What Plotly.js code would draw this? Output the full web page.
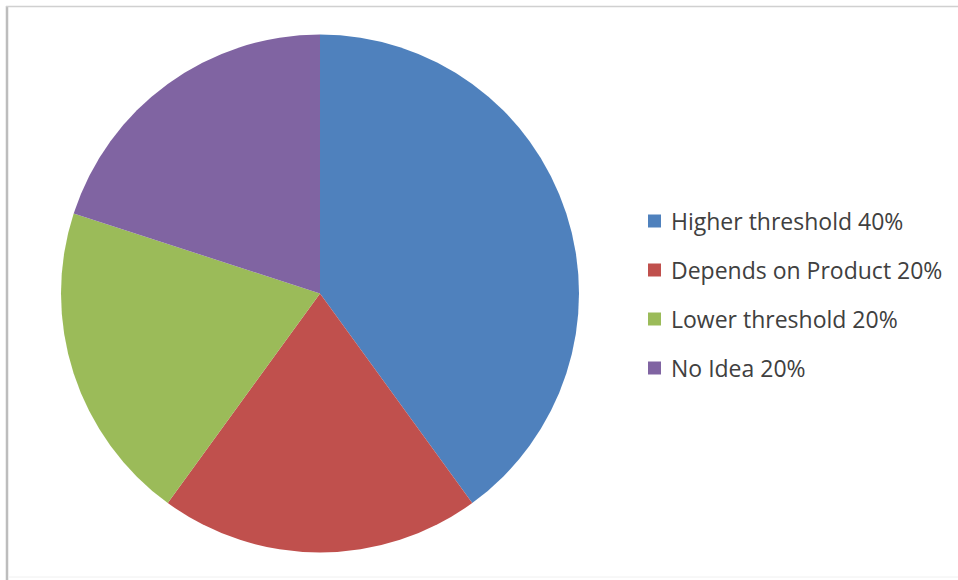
<!DOCTYPE html>
<html>
<head>
<meta charset="utf-8">
<script src="https://cdn.plot.ly/plotly-3.0.1.min.js"></script>
<style>html,body{margin:0;padding:0;background:#fff;}#chart{width:958px;height:580px;}</style>
</head>
<body>
<div id="chart"></div>
<script>
const labels = ["Higher threshold 40%", "Depends on Product 20%", "Lower threshold 20%", "No Idea 20%"];
const values = [40, 20, 20, 20];
const colors = ["#4F81BD", "#C0504D", "#9BBB59", "#8064A2"];

const W = 958, H = 580;
const legendX = 648, legendY0 = 221, legendStep = 49, sq = 13;

const annotations = labels.map((t, i) => ({
  xref: "paper", yref: "paper",
  x: (legendX + 21) / W, y: 1 - (legendY0 + i * legendStep) / H,
  xanchor: "left", yanchor: "middle",
  text: t, showarrow: false,
  font: {family: "'Open Sans', Lato, sans-serif", size: 23, color: "#404040"}
}));

const shapes = labels.map((t, i) => ({
  type: "rect", xref: "paper", yref: "paper",
  x0: legendX / W, x1: (legendX + sq) / W,
  y0: 1 - (legendY0 + i * legendStep - sq / 2) / H,
  y1: 1 - (legendY0 + i * legendStep + sq / 2) / H,
  fillcolor: colors[i], line: {width: 0}
}));
shapes.push({type: "line", xref: "paper", yref: "paper", x0: 7/W, x1: 7/W, y0: 1 - 6/H, y1: 0, line: {color: "#bdbdbd", width: 2.5}});
shapes.push({type: "line", xref: "paper", yref: "paper", x0: 6/W, x1: 1, y0: 1 - 6.5/H, y1: 1 - 6.5/H, line: {color: "#d0d0d0", width: 1.5}});
shapes.push({type: "line", xref: "paper", yref: "paper", x0: 8/W, x1: 1, y0: 1 - 577/H, y1: 1 - 577/H, line: {color: "#f0f0f0", width: 1}});

Plotly.newPlot("chart", [{
  type: "pie",
  labels: labels,
  values: values,
  sort: false,
  direction: "clockwise",
  rotation: 0,
  textinfo: "none",
  hoverinfo: "label",
  marker: {colors: colors, line: {width: 0}},
  domain: {x: [61 / W, 579 / W], y: [1 - 553 / H, 1 - 34 / H]}
}], {
  width: W, height: H,
  margin: {l: 0, r: 0, t: 0, b: 0},
  paper_bgcolor: "#ffffff",
  showlegend: false,
  annotations: annotations,
  shapes: shapes
}, {displayModeBar: false, staticPlot: true});
</script>
</body>
</html>
